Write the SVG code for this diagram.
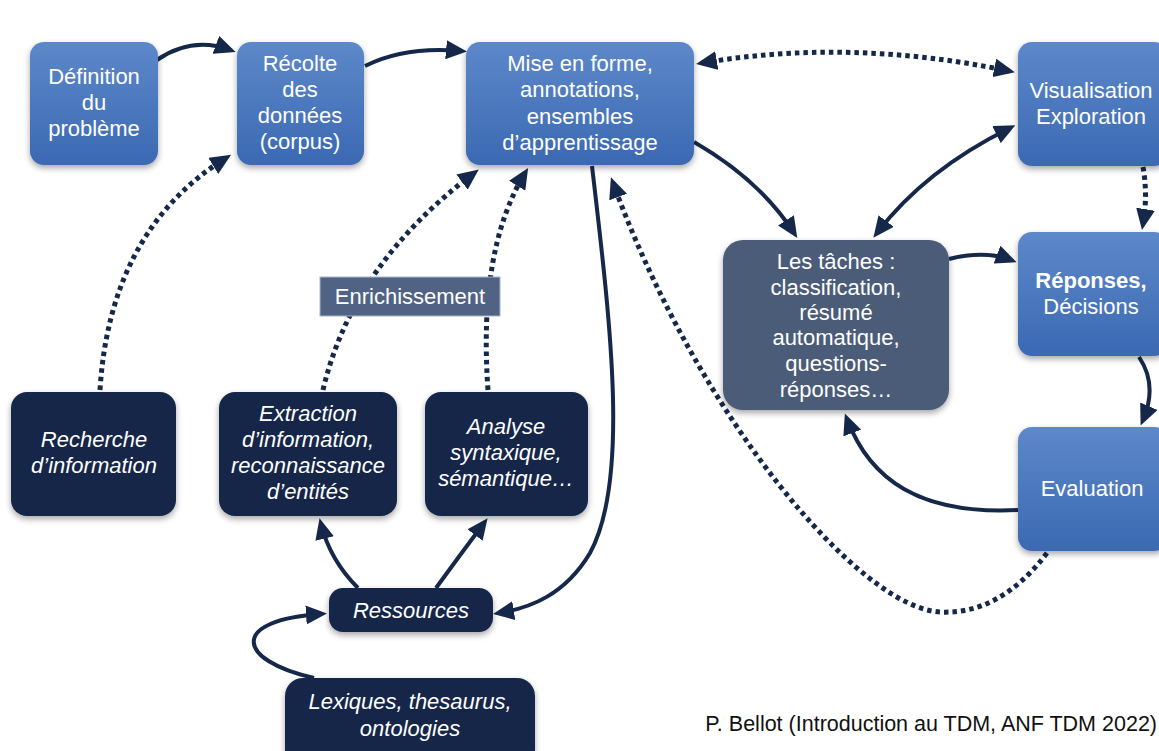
<svg xmlns="http://www.w3.org/2000/svg" width="1159" height="751" viewBox="0 0 1159 751">
<defs>
<linearGradient id="blue" x1="0" y1="0" x2="0" y2="1">
<stop offset="0" stop-color="#5d88ca"/>
<stop offset="1" stop-color="#3b69b2"/>
</linearGradient>
<filter id="sh" x="-20%" y="-20%" width="140%" height="150%">
<feDropShadow dx="0" dy="3" stdDeviation="3" flood-color="#000" flood-opacity="0.35"/>
</filter>
<marker id="ah" markerUnits="userSpaceOnUse" markerWidth="21" markerHeight="19" refX="15" refY="9.5" orient="auto-start-reverse">
<path d="M0,0 L21,9.5 L0,19 z" fill="#16284a"/>
</marker>
<style>
.blue{fill:url(#blue);filter:url(#sh)}
.navy{fill:#16284a;filter:url(#sh)}
.slate{fill:#4b5c78;filter:url(#sh)}
.t{font-family:"Liberation Sans",Arial,sans-serif;font-size:22px;fill:#fff;text-anchor:middle}
.i{font-style:italic}
.b{font-weight:bold}
.c{fill:none;stroke:#16284a;stroke-width:4}
.d{stroke-dasharray:4.5 4;stroke-width:5}
</style>
</defs>
<rect width="1159" height="751" fill="#fff"/>
<g id="connectors">
<path class="c" d="M157,60 Q192,36 230,50" marker-end="url(#ah)"/>
<path class="c" d="M365,66 Q405,46 461,51" marker-end="url(#ah)"/>
<path class="c d" d="M702,63 Q850,38 1009,71" marker-start="url(#ah)" marker-end="url(#ah)"/>
<path class="c" d="M694,142 Q760,180 794,233" marker-end="url(#ah)"/>
<path class="c" d="M1010,128 Q925,170 877,233" marker-start="url(#ah)" marker-end="url(#ah)"/>
<path class="c d" d="M1143,167 Q1148,195 1143,224" marker-end="url(#ah)"/>
<path class="c" d="M949,259 Q985,250 1011,260" marker-end="url(#ah)"/>
<path class="c" d="M1139,357 Q1158,385 1143,420" marker-end="url(#ah)"/>
<path class="c" d="M1018,510 C920,515 870,480 847,419" marker-end="url(#ah)"/>
<path class="c d" d="M1047,553 Q1000,615 940,612 C860,608 700,420 613,183" marker-end="url(#ah)"/>
<path class="c" d="M592,166 C610,320 630,480 590,553 C565,595 530,608 499,613" marker-end="url(#ah)"/>
<path class="c d" d="M100,390 Q110,230 226,158" marker-end="url(#ah)"/>
<path class="c d" d="M323,390 Q352,265 474,173" marker-end="url(#ah)"/>
<path class="c d" d="M488,390 Q478,250 525,173" marker-end="url(#ah)"/>
<path class="c" d="M358,588 Q330,560 321,524" marker-end="url(#ah)"/>
<path class="c" d="M436,588 Q460,555 484,523" marker-end="url(#ah)"/>
<path class="c" d="M314,678 C235,660 230,620 321,614" marker-end="url(#ah)"/>
</g>
<g id="n-definition">
<rect class="blue" x="30" y="42" width="128" height="123" rx="14"/>
<text class="t" x="94" y="84">Définition</text>
<text class="t" x="94" y="110">du</text>
<text class="t" x="94" y="136">problème</text>
</g>
<g id="n-recolte">
<rect class="blue" x="237" y="42" width="127" height="123" rx="14"/>
<text class="t" x="300" y="71">Récolte</text>
<text class="t" x="300" y="97">des</text>
<text class="t" x="300" y="123">données</text>
<text class="t" x="300" y="149">(corpus)</text>
</g>
<g id="n-mise">
<rect class="blue" x="466" y="42" width="228" height="123" rx="14"/>
<text class="t" x="580" y="71">Mise en forme,</text>
<text class="t" x="580" y="97">annotations,</text>
<text class="t" x="580" y="124">ensembles</text>
<text class="t" x="580" y="150">d’apprentissage</text>
</g>
<g id="n-visualisation">
<rect class="blue" x="1018" y="42" width="150" height="124" rx="14"/>
<text class="t" x="1091" y="98">Visualisation</text>
<text class="t" x="1091" y="124">Exploration</text>
</g>
<g id="n-taches">
<rect class="slate" x="723" y="240" width="226" height="170" rx="20"/>
<text class="t" x="836" y="269">Les tâches :</text>
<text class="t" x="836" y="295">classification,</text>
<text class="t" x="836" y="320">résumé</text>
<text class="t" x="836" y="345">automatique,</text>
<text class="t" x="836" y="371">questions-</text>
<text class="t" x="836" y="397">réponses…</text>
</g>
<g id="n-reponses">
<rect class="blue" x="1018" y="232" width="150" height="124" rx="14"/>
<text class="t b" x="1091" y="288">Réponses,</text>
<text class="t" x="1091" y="314">Décisions</text>
</g>
<g id="n-evaluation">
<rect class="blue" x="1018" y="427" width="150" height="124" rx="14"/>
<text class="t" x="1092" y="496">Evaluation</text>
</g>
<g id="n-recherche">
<rect class="navy" x="11" y="392" width="165" height="124" rx="16"/>
<text class="t i" x="94" y="447">Recherche</text>
<text class="t i" x="94" y="473">d’information</text>
</g>
<g id="n-extraction">
<rect class="navy" x="219" y="392" width="178" height="124" rx="16"/>
<text class="t i" x="308" y="421">Extraction</text>
<text class="t i" x="308" y="447">d’information,</text>
<text class="t i" x="308" y="473">reconnaissance</text>
<text class="t i" x="308" y="499">d’entités</text>
</g>
<g id="n-analyse">
<rect class="navy" x="425" y="392" width="163" height="124" rx="16"/>
<text class="t i" x="506" y="434">Analyse</text>
<text class="t i" x="506" y="460">syntaxique,</text>
<text class="t i" x="506" y="486">sémantique…</text>
</g>
<g id="n-ressources">
<rect class="navy" x="329" y="588" width="164" height="44" rx="14"/>
<text class="t i" x="411" y="618">Ressources</text>
</g>
<g id="n-lexiques">
<rect class="navy" x="285" y="678" width="250" height="90" rx="18"/>
<text class="t i" x="410" y="709">Lexiques, thesaurus,</text>
<text class="t i" x="410" y="736">ontologies</text>
</g>
<g id="n-enrichissement">
<rect x="320" y="277" width="180" height="39" fill="#506385" stroke="#a9b5c9" stroke-width="1"/>
<text class="t" x="410" y="304">Enrichissement</text>
</g>
<text x="1157" y="731" font-family="Liberation Sans, Arial, sans-serif" font-size="21.5" fill="#111" text-anchor="end">P. Bellot (Introduction au TDM, ANF TDM 2022)</text>
</svg>
